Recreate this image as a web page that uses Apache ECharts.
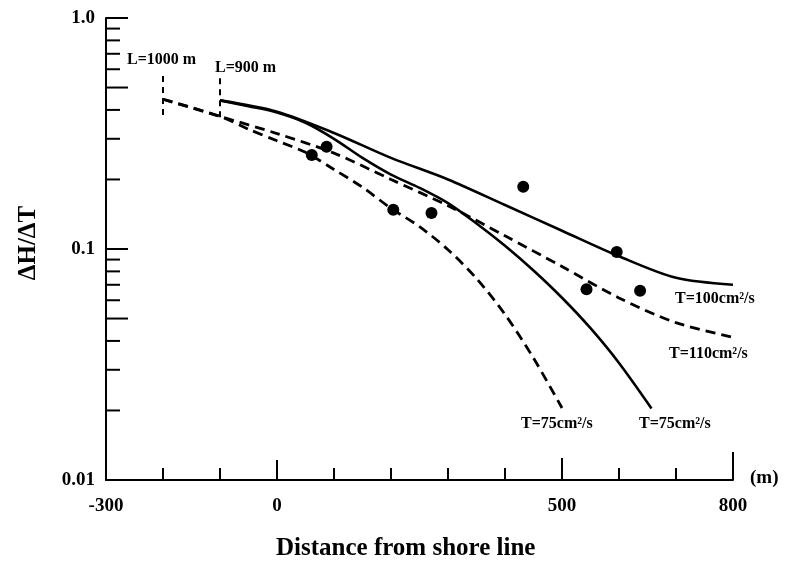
<!DOCTYPE html>
<html>
<head>
<meta charset="utf-8">
<script src="https://cdn.jsdelivr.net/npm/echarts@6/dist/echarts.min.js"></script>
<style>
  html, body { margin: 0; padding: 0; background: #fff; }
  #chart { width: 786px; height: 575px; }
</style>
</head>
<body>
<div id="chart"></div>
<script>
// Distance from shore line (m) vs. head ratio ΔH/ΔT
const xMin = -300, xMax = 800, xStep = 100;
const xLabelValues = [-300, 0, 500, 800];
const yLabelText = { '-2': '0.01', '-1': '0.1', '0': '1.0' };

// Computed curves, L = 900 m (solid)
const solidT100 = [[-100, 0.44], [0, 0.393], [100, 0.318], [200, 0.248], [300, 0.2], [400, 0.155],
  [500, 0.12], [600, 0.093], [700, 0.075], [800, 0.07]];
const solidT75 = [[-100, 0.44], [-50, 0.415], [0, 0.39], [50, 0.352], [100, 0.3], [150, 0.248],
  [200, 0.21], [250, 0.184], [300, 0.158], [350, 0.129], [400, 0.1033], [450, 0.0807], [500, 0.0615],
  [550, 0.0454], [600, 0.0321], [657, 0.0204]];

// Computed curves, L = 1000 m (dashed)
const dashedT110 = [[-200, 0.445], [-100, 0.375], [0, 0.316], [100, 0.26], [200, 0.2], [300, 0.154],
  [400, 0.114], [500, 0.084], [600, 0.0614], [700, 0.048], [800, 0.0415]];
const dashedT75 = [[-200, 0.445], [-100, 0.375], [-50, 0.33], [0, 0.294], [50, 0.262], [100, 0.221],
  [150, 0.185], [200, 0.15], [250, 0.125], [300, 0.0993], [350, 0.0745], [400, 0.0521], [450, 0.0337], [500, 0.0205]];

// Observed values
const observed = [[61, 0.255], [87, 0.277], [204, 0.148], [271, 0.143], [432, 0.186],
  [543, 0.067], [596, 0.097], [637, 0.066]];

// Boundary markers (L = 1000 m and L = 900 m)
const markerL1000 = [[-200, 0.561], [-200, 0.369]];
const markerL900 = [[-100, 0.549], [-100, 0.372]];

// Tick positions on both axes
const yTickValues = [1, 0.9, 0.8, 0.7, 0.6, 0.5, 0.4, 0.3, 0.2, 0.1,
  0.09, 0.08, 0.07, 0.06, 0.05, 0.04, 0.03, 0.02];
const xTickValues = [-200, -100, 0, 100, 200, 300, 400, 500, 600, 700, 800];

const SERIF = '"Liberation Serif", "DejaVu Serif", serif';

function yTickLen(v) {
  const r = Math.round(v * 1000);
  return (r === 1000 || r === 500 || r === 100 || r === 50) ? 22 : 14;
}
function xTickLen(v) {
  if (v === 800) return 28;
  if (v === 500) return 22;
  if (v === 0) return 20;
  return 12;
}

const tickStyle = { stroke: '#000', lineWidth: 2 };

function curve(data, dashed) {
  return {
    type: 'line', data: data, smooth: 0.3, symbol: 'none',
    lineStyle: dashed ? { color: '#000', width: 2.8, type: [10, 6] } : { color: '#000', width: 2.6 }
  };
}

const chart = echarts.init(document.getElementById('chart'), null, { renderer: 'canvas' });

chart.setOption({
  backgroundColor: '#fff',
  animation: false,
  grid: { left: 106, right: 53, top: 18, bottom: 95, containLabel: false, outerBoundsMode: 'none' },
  xAxis: {
    type: 'value', min: xMin, max: xMax, interval: xStep,
    axisLine: { show: true, onZero: false, lineStyle: { color: '#000', width: 2 } },
    axisTick: { show: false },
    splitLine: { show: false },
    axisLabel: {
      margin: 17, color: '#000', fontFamily: SERIF, fontWeight: 'bold', fontSize: 19,
      formatter: v => xLabelValues.indexOf(v) >= 0 ? String(v) : ''
    }
  },
  yAxis: {
    type: 'log', logBase: 10, min: 0.01, max: 1,
    axisLine: { show: true, onZero: false, lineStyle: { color: '#000', width: 2 } },
    axisTick: { show: false },
    minorTick: { show: false },
    splitLine: { show: false },
    axisLabel: {
      margin: 11, color: '#000', fontFamily: SERIF, fontWeight: 'bold', fontSize: 19,
      formatter: v => yLabelText[String(Math.round(Math.log10(v)))] || ''
    }
  },
  series: [
    curve(solidT100, false),
    curve(solidT75, false),
    curve(dashedT110, true),
    curve(dashedT75, true),
    {
      type: 'line', data: markerL1000, symbol: 'none',
      lineStyle: { color: '#000', width: 2, type: [6, 5] }
    },
    {
      type: 'line', data: markerL900, symbol: 'none',
      lineStyle: { color: '#000', width: 2, type: [6, 5] }
    },
    {
      type: 'scatter', data: observed, symbol: 'circle', symbolSize: 12,
      itemStyle: { color: '#000', opacity: 1 }
    },
    {
      // tick marks along the y axis (pointing into the plot)
      type: 'custom', coordinateSystem: 'cartesian2d', clip: false,
      data: yTickValues.map(v => [xMin, v]),
      renderItem: (params, api) => {
        const v = api.value(1);
        const p = api.coord([api.value(0), v]);
        return { type: 'line', shape: { x1: p[0], y1: p[1], x2: p[0] + yTickLen(v), y2: p[1] }, style: tickStyle };
      }
    },
    {
      // tick marks along the x axis (pointing up)
      type: 'custom', coordinateSystem: 'cartesian2d', clip: false,
      data: xTickValues.map(v => [v, 0.01]),
      renderItem: (params, api) => {
        const v = api.value(0);
        const p = api.coord([v, api.value(1)]);
        return { type: 'line', shape: { x1: p[0], y1: p[1], x2: p[0], y2: p[1] - xTickLen(v) }, style: tickStyle };
      }
    }
  ],
  graphic: [
    { type: 'text', left: 750, top: 469, style: { text: '(m)', font: 'bold 19px ' + SERIF, fill: '#000' } },
    { type: 'text', left: 276, top: 536, style: { text: 'Distance from shore line', font: 'bold 25px ' + SERIF, fill: '#000' } },
    { type: 'text', x: 29, y: 243, rotation: Math.PI / 2,
      style: { text: 'ΔH/ΔT', font: 'bold 25px ' + SERIF, fill: '#000', align: 'center', verticalAlign: 'middle' } },
    { type: 'text', left: 127, top: 52, style: { text: 'L=1000 m', font: 'bold 16px ' + SERIF, fill: '#000' } },
    { type: 'text', left: 215, top: 60, style: { text: 'L=900 m', font: 'bold 16px ' + SERIF, fill: '#000' } },
    { type: 'text', left: 675, top: 291, style: { text: 'T=100cm²/s', font: 'bold 16px ' + SERIF, fill: '#000' } },
    { type: 'text', left: 669, top: 346, style: { text: 'T=110cm²/s', font: 'bold 16px ' + SERIF, fill: '#000' } },
    { type: 'text', left: 521, top: 416, style: { text: 'T=75cm²/s', font: 'bold 16px ' + SERIF, fill: '#000' } },
    { type: 'text', left: 639, top: 416, style: { text: 'T=75cm²/s', font: 'bold 16px ' + SERIF, fill: '#000' } }
  ]
});
</script>
</body>
</html>
